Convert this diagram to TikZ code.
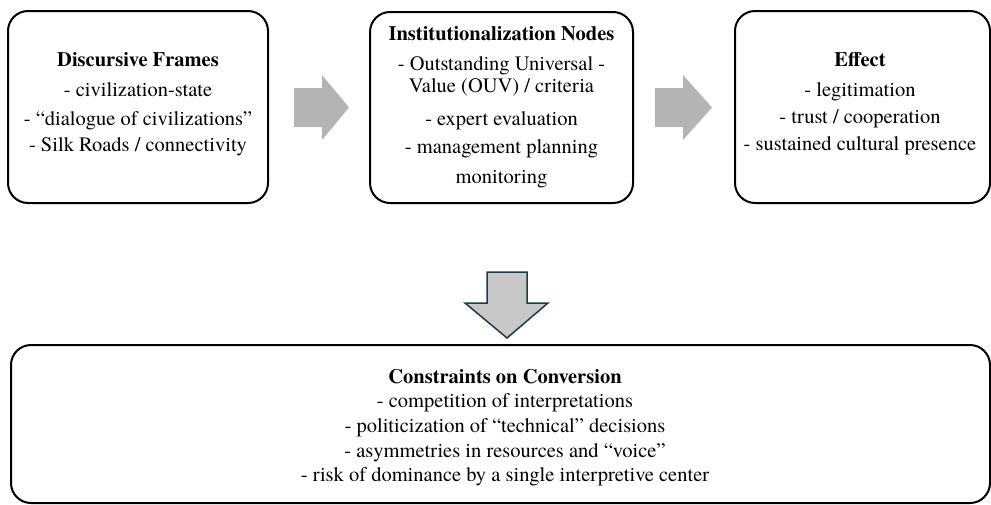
\documentclass[tikz,border=0pt]{standalone}
\usepackage{fontspec}
\setmainfont{texgyretermes}[Extension=.otf,UprightFont=*-regular,BoldFont=*-bold,ItalicFont=*-italic,BoldItalicFont=*-bolditalic]
\begin{document}
\begin{tikzpicture}[x=1pt,y=-1pt,
  box/.style={draw=black,line width=2pt,rounded corners=20pt,fill=white,inner sep=0pt},
  ln/.style={anchor=base,inner sep=0pt,font=\fontsize{20.5}{24}\selectfont},
  hd/.style={anchor=base,inner sep=0pt,font=\fontsize{20.5}{24}\selectfont\bfseries},
  rarrow/.style={fill=arrgray,draw=none},
  darrow/.style={fill=darrfill,draw=darredge,line width=1.5pt,line join=miter}]
\definecolor{arrgray}{HTML}{B4B4B4}
\definecolor{darrfill}{HTML}{C8C8C8}
\definecolor{darredge}{HTML}{1F3A4A}
\useasboundingbox (0,0) rectangle (991,504);

% boxes
\node[box,minimum width=260pt,minimum height=192pt] (b1) at (138,107) {};
\node[box,minimum width=263pt,minimum height=191pt] (b2) at (501.5,107.5) {};
\node[box,minimum width=255pt,minimum height=192pt] (b3) at (862.5,107) {};
\node[box,minimum width=979pt,minimum height=158pt] (b4) at (500.5,424) {};

% box 1 text
\node[hd] (b1h) at (138,66.7) {Discursive Frames};
\node[ln] (b1a) at (138,96.7) {- civilization-state};
\node[ln] (b1b) at (138,125) {- “dialogue of civilizations”};
\node[ln] (b1c) at (138,151.7) {- Silk Roads / connectivity};

% box 2 text
\node[hd] (b2h) at (501.5,40) {Institutionalization Nodes};
\node[ln] (b2a) at (501.5,70) {- Outstanding Universal -};
\node[ln] (b2b) at (501.5,92.3) {Value (OUV) / criteria};
\node[ln] (b2c) at (501.5,125) {- expert evaluation};
\node[ln] (b2d) at (501.5,153.3) {- management planning};
\node[ln] (b2e) at (501.5,183.3) {monitoring};

% box 3 text
\node[hd] (b3h) at (860,66.7) {Effect};
\node[ln] (b3a) at (860,96.7) {- legitimation};
\node[ln] (b3b) at (860,123.3) {- trust / cooperation};
\node[ln] (b3c) at (860,150) {- sustained cultural presence};

% box 4 text
\node[hd] (b4h) at (505,383) {Constraints on Conversion};
\node[ln] (b4a) at (505,407) {- competition of interpretations};
\node[ln] (b4b) at (505,432) {- politicization of “technical” decisions};
\node[ln] (b4c) at (505,457) {- asymmetries in resources and “voice”};
\node[ln] (b4d) at (505,481) {- risk of dominance by a single interpretive center};

% block arrows
\fill[rarrow] (294,88) -- (322,88) -- (322,75) -- (349,107.5) -- (322,140) -- (322,127) -- (294,127) -- cycle;
\fill[rarrow] (655,88) -- (683,88) -- (683,75) -- (712,107.5) -- (683,140) -- (683,127) -- (655,127) -- cycle;
\draw[darrow] (487,272) -- (527,272) -- (527,303) -- (548,303) -- (507,338) -- (465,303) -- (487,303) -- cycle;
\end{tikzpicture}
\end{document}
